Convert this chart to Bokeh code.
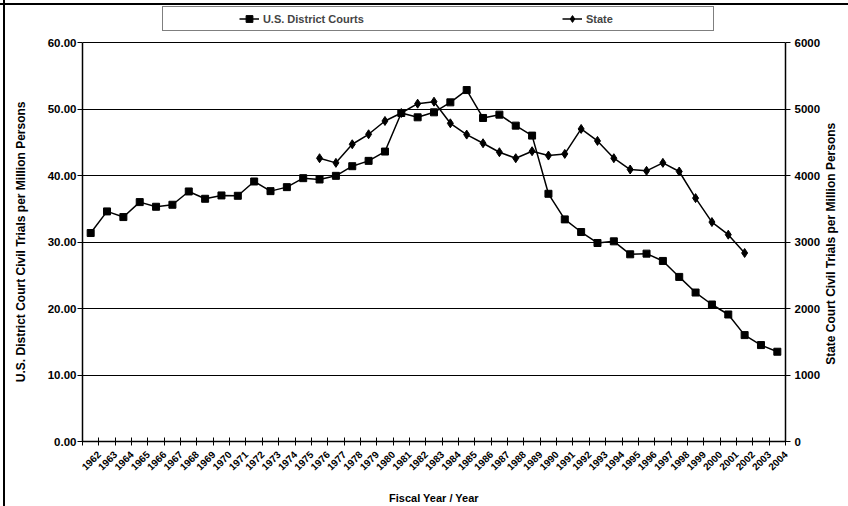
from bokeh.plotting import figure
from bokeh.models import (Range1d, LinearAxis, FixedTicker, NumeralTickFormatter,
                          Legend, LegendItem, ColumnDataSource)
from bokeh.embed import file_html
from bokeh.resources import INLINE
import math

# ---- data ----
years = list(range(1962, 2005))
us_district = [31.35, 34.6, 33.75, 36.0, 35.3, 35.6, 37.6, 36.5, 37.0, 36.95,
               39.1, 37.65, 38.25, 39.6, 39.4, 39.95, 41.4, 42.2, 43.6,
               49.4, 48.75, 49.5, 51.0, 52.85, 48.65, 49.15, 47.5, 46.0,
               37.25, 33.4, 31.5, 29.85, 30.1, 28.15, 28.25, 27.15, 24.75,
               22.4, 20.6, 19.1, 16.0, 14.5, 13.5]
state_years = list(range(1976, 2003))
state = [4260, 4190, 4470, 4620, 4820, 4940, 5080, 5110, 4785, 4615, 4485,
         4350, 4260, 4365, 4300, 4325, 4700, 4520, 4260, 4090, 4070, 4190,
         4060, 3660, 3300, 3110, 2835]
left_ticks = [0, 10, 20, 30, 40, 50, 60]
right_ticks = [0, 1000, 2000, 3000, 4000, 5000, 6000]
year_labels = [str(y) for y in years]

FONT = "Liberation Sans"
nb = "\u00a0"

# layout: frame spans y 5..441 so the legend (above the 60 line) is inside it
TOP, BOTTOM = 5, 441
PLOT_H = 399  # pixels from 0 to 60
top_factor = (BOTTOM - TOP) / PLOT_H

p = figure(width=848, height=506, output_backend="svg", toolbar_location=None,
           x_range=Range1d(years[0] - 0.5, years[-1] + 0.5),
           y_range=Range1d(0, left_ticks[-1] * top_factor),
           min_border_left=82, min_border_right=60,
           min_border_top=TOP, min_border_bottom=506 - BOTTOM)
p.extra_y_ranges = {"state": Range1d(0, right_ticks[-1] * top_factor)}
p.outline_line_color = None
p.background_fill_color = "white"
p.border_fill_color = None
# outer chart frame (left and top edges visible in the reference)
p.styles = {
    "background": "linear-gradient(#000, #000) 3px 0 / 2px 100% no-repeat, "
                  "linear-gradient(#000, #000) 0 3px / 100% 2px no-repeat, #fff"
}

# grid
p.xgrid.visible = False
p.ygrid.ticker = FixedTicker(ticks=left_ticks)
p.ygrid.grid_line_color = "black"
p.ygrid.grid_line_width = 1

# x axis: tick marks between categories (Excel style)
xa = p.xaxis[0]
boundaries = [y + 0.5 for y in years]
xa.ticker = FixedTicker(ticks=boundaries, minor_ticks=[years[0] - 0.5])
xa.major_label_overrides = {b: lab for b, lab in zip(boundaries, year_labels)}
xa.major_tick_in = 4
xa.major_tick_out = 4
xa.minor_tick_in = 4
xa.minor_tick_out = 4
xa.minor_tick_line_color = "black"
xa.minor_tick_line_width = 1
xa.major_label_orientation = math.pi / 4
xa.major_label_standoff = 7
xa.axis_label = "Fiscal Year / Year"
xa.axis_label_standoff = 15

# left axis
ya = p.yaxis[0]
ya.ticker = FixedTicker(ticks=left_ticks)
ya.bounds = (left_ticks[0], left_ticks[-1])
ya.formatter = NumeralTickFormatter(format="0.00")
ya.minor_tick_line_color = None
ya.major_tick_in = 0
ya.major_tick_out = 5
ya.major_label_standoff = 1
ya.axis_label = "U.S. District Court Civil Trials per Million Persons" + nb * 11
ya.axis_label_standoff = 17

# right axis
ra = LinearAxis(y_range_name="state", ticker=FixedTicker(ticks=right_ticks),
                formatter=NumeralTickFormatter(format="0"),
                bounds=(right_ticks[0], right_ticks[-1]),
                axis_label=nb * 23 + "State Court Civil Trials per Million Persons")
ra.minor_tick_line_color = None
ra.major_tick_in = 0
ra.major_tick_out = 5
ra.major_label_standoff = 4
ra.axis_label_standoff = 8
ra.axis_label_orientation = math.pi / 2
ra.axis_label_align = "start"
p.add_layout(ra, "right")

for ax in [xa, ya, ra]:
    ax.axis_line_color = "black"
    ax.axis_line_width = 1.5
    ax.major_tick_line_color = "black"
    ax.major_tick_line_width = 1
    ax.major_label_text_font = FONT
    ax.major_label_text_font_style = "bold"
    ax.major_label_text_font_size = "11.5px"
    ax.major_label_text_color = "black"
    ax.axis_label_text_font = FONT
    ax.axis_label_text_font_style = "bold"
    ax.axis_label_text_font_size = "12px"
    ax.axis_label_text_color = "black"
xa.major_label_text_font_size = "10px"
xa.axis_label_text_font_size = "11px"

# series
src_us = ColumnDataSource(dict(x=years, y=us_district))
src_st = ColumnDataSource(dict(x=state_years, y=state))
l1 = p.line("x", "y", source=src_us, line_color="black", line_width=1.5)
s1 = p.scatter("x", "y", source=src_us, marker="square", size=7,
               fill_color="black", line_color="black")
l2 = p.line("x", "y", source=src_st, line_color="black", line_width=1.5,
            y_range_name="state")
s2 = p.scatter("x", "y", source=src_st, marker="diamond", size=9,
               fill_color="black", line_color="black", y_range_name="state")

blank = p.line(x=[], y=[], line_alpha=0)
legend = Legend(items=[
    LegendItem(label=nb * 16, renderers=[blank]),
    LegendItem(label="U.S. District Courts", renderers=[l1, s1]),
    LegendItem(label=nb * 57, renderers=[blank]),
    LegendItem(label="State", renderers=[l2, s2]),
    LegendItem(label=nb * 24, renderers=[blank]),
], orientation="horizontal", location=(80, BOTTOM - 8 - 23))
legend.spacing = 0
legend.padding = 3
legend.margin = 0
legend.glyph_width = 20
legend.glyph_height = 17
legend.label_height = 17
legend.label_width = 0
legend.label_standoff = 4
legend.label_text_font = FONT
legend.label_text_font_style = "bold"
legend.label_text_font_size = "11px"
legend.border_line_color = "black"
legend.border_line_width = 1
legend.background_fill_alpha = 1
p.add_layout(legend, "center")

open("out.html", "w").write(file_html(p, INLINE))
